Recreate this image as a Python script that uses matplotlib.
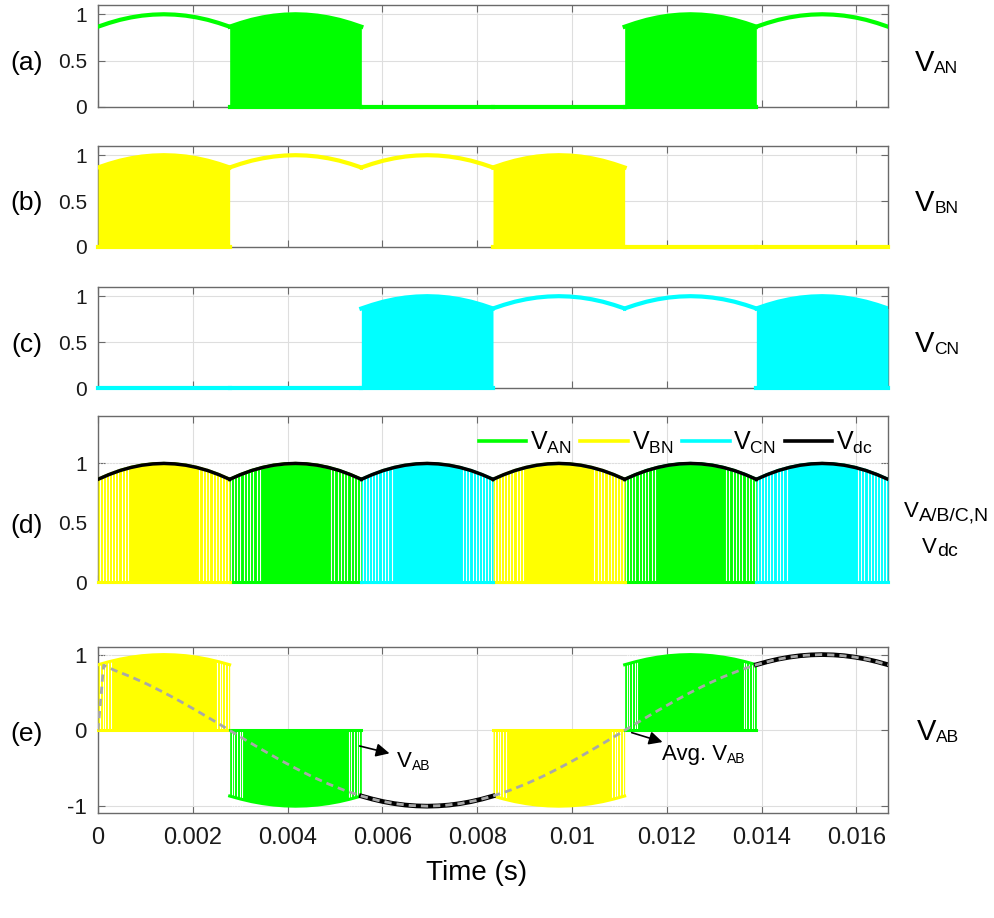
import numpy as np
import matplotlib
matplotlib.use('Agg')
import matplotlib.pyplot as plt
from matplotlib.lines import Line2D
from matplotlib.text import Annotation

plt.rcParams['font.family'] = ['Liberation Sans', 'DejaVu Sans']
plt.rcParams['mathtext.fontset'] = 'custom'
plt.rcParams['mathtext.rm'] = 'Liberation Sans'
plt.rcParams['mathtext.it'] = 'Liberation Sans:italic'

# ---------------- data ----------------
SECTOR_EDGES = [0.0, 0.0027778, 0.0055556, 0.0083333, 0.0111111, 0.0138889, 0.0166667]
# DC-link envelope across one 60-degree sector
ENV_ARC = [0.866, 0.906, 0.940, 0.966, 0.985, 0.996, 1.000, 0.996, 0.985, 0.966, 0.940, 0.906, 0.866]
VAN_STATE = ['on', 'pwm', 'off', 'off', 'pwm', 'on']
VBN_STATE = ['pwm', 'on', 'on', 'pwm', 'off', 'off']
VCN_STATE = ['off', 'off', 'pwm', 'on', 'on', 'pwm']
VAB_KIND = ['B', 'A', 'line', 'B', 'A', 'line']
VAB_SIGN = [1, -1, -1, -1, 1, 1]
# average line-to-line voltage
AVG_STEP = 0.00034722
AVG_V = [0.793, 0.707, 0.609, 0.500, 0.383, 0.259, 0.131, 0.000,
         -0.131, -0.259, -0.383, -0.500, -0.609, -0.707, -0.793, -0.866,
         -0.924, -0.966, -0.991, -1.000, -0.991, -0.966, -0.924, -0.866,
         -0.793, -0.707, -0.609, -0.500, -0.383, -0.259, -0.131, 0.000,
         0.131, 0.259, 0.383, 0.500, 0.609, 0.707, 0.793, 0.866,
         0.924, 0.966, 0.991, 1.000, 0.991, 0.966, 0.924, 0.866]
AVG_START_T = [0.0, 0.00012]
AVG_START_V = [0.0, 0.86]
# visible switching gaps inside a PWM sector (fraction of the sector)
GAP_D = [0.012, 0.035, 0.058, 0.082, 0.106, 0.13, 0.155, 0.18, 0.205, 0.23,
         0.77, 0.795, 0.82, 0.845, 0.87, 0.894, 0.918, 0.942, 0.965, 0.988]
GAP_E = [0.015, 0.035, 0.055, 0.075, 0.095, 0.905, 0.925, 0.945, 0.965, 0.985]
X_TICKS = [0, 0.002, 0.004, 0.006, 0.008, 0.01, 0.012, 0.014, 0.016]
X_TICK_LABELS = ['0', '0.002', '0.004', '0.006', '0.008', '0.01', '0.012', '0.014', '0.016']

GREEN, YELLOW, CYAN = '#00FF00', '#FFFF00', '#00FFFF'
SPINE = '#6a6a6a'
W, H = 995, 918

fig = plt.figure(figsize=(W / 100, H / 100), dpi=100)


def px_axes(top, bottom, left=98, right=888):
    return fig.add_axes([left / W, 1 - bottom / H, (right - left) / W, (bottom - top) / H])


def style(ax, ylim, yticks, ylabels, xlabels=False, ysize=15):
    ax.set_xlim(0, SECTOR_EDGES[-1])
    ax.set_ylim(*ylim)
    ax.set_xticks(X_TICKS)
    ax.set_xticklabels(X_TICK_LABELS if xlabels else [])
    ax.set_yticks(yticks)
    ax.set_yticklabels(ylabels)
    ax.grid(True, color='#dedede', lw=0.8)
    ax.set_axisbelow(True)
    ax.tick_params(direction='in', length=5, width=0.8, top=True, right=True,
                   colors=SPINE, labelcolor='#1a1a1a', labelsize=ysize, pad=8)
    ax.tick_params(axis='x', labelsize=17, pad=10)
    for s in ax.spines.values():
        s.set_color(SPINE)
        s.set_linewidth(1.0)


def sector_arc(k, sign=1):
    t = np.linspace(SECTOR_EDGES[k], SECTOR_EDGES[k + 1], len(ENV_ARC))
    return t, sign * np.array(ENV_ARC)


def pwm_block(ax, k, sign, color, gaps, lw=2.2):
    t, v = sector_arc(k, sign)
    t0, t1 = t[0], t[-1]
    ax.fill_between(t, 0, v, color=color, lw=0, zorder=3)
    if gaps:
        ax.vlines(t0 + np.array(gaps) * (t1 - t0), 0, sign * 1.0, color='white', lw=0.8, zorder=3.2)
    ax.plot(t, v, color=color, lw=lw, zorder=3.4)
    ax.plot([t0, t1], [0, 0], color=color, lw=lw, zorder=3.4, clip_on=False)


def draw_phase(ax, states, color, gaps=None, lw=2.2):
    for k, s in enumerate(states):
        t, v = sector_arc(k)
        if s == 'on':
            ax.plot(t, v, color=color, lw=lw, zorder=3)
        elif s == 'off':
            ax.plot([t[0], t[-1]], [0, 0], color=color, lw=lw, zorder=3, clip_on=False)
        else:
            pwm_block(ax, k, 1, color, gaps, lw)


def v_label(x_px, base_px, sub, vsize, ssize, drop=2):
    t = fig.text(x_px / W, 1 - base_px / H, 'V', fontsize=vsize, va='baseline', ha='left')
    ann = Annotation(sub, xy=(1, 0.225), xycoords=t, xytext=(0, -drop), textcoords='offset points',
                     fontsize=ssize, va='baseline', ha='left')
    fig.add_artist(ann)
    return t


# ---------------- panels (a)-(c) ----------------
ax_a = px_axes(5, 107)
draw_phase(ax_a, VAN_STATE, GREEN, lw=3.0)
ax_b = px_axes(146, 247)
draw_phase(ax_b, VBN_STATE, YELLOW, lw=3.0)
ax_c = px_axes(287, 388)
draw_phase(ax_c, VCN_STATE, CYAN, lw=3.0)
for ax in (ax_a, ax_b, ax_c):
    style(ax, (0, 1.1), [0, 0.5, 1], ['0', '0.5', '1'])

# ---------------- panel (d) ----------------
ax_d = px_axes(416, 582)
draw_phase(ax_d, VAN_STATE, GREEN, GAP_D)
draw_phase(ax_d, VBN_STATE, YELLOW, GAP_D)
draw_phase(ax_d, VCN_STATE, CYAN, GAP_D)
for k in range(6):
    t, v = sector_arc(k)
    ax_d.plot(t, v, color='black', lw=2.5, zorder=4, solid_joinstyle='miter')
style(ax_d, (0, 1.4), [0, 0.5, 1], ['0', '0.5', '1'])
handles = [Line2D([], [], color=GREEN, lw=2.6), Line2D([], [], color=YELLOW, lw=2.6),
           Line2D([], [], color=CYAN, lw=2.6), Line2D([], [], color='black', lw=2.6)]
labels = [r'$\mathrm{V_{AN}}$', r'$\mathrm{V_{BN}}$', r'$\mathrm{V_{CN}}$', r'$\mathrm{V_{dc}}$']
ax_d.legend(handles, labels, ncol=4, frameon=False, loc='upper right', fontsize=18,
            handlelength=1.9, handletextpad=0.15, columnspacing=0.35,
            bbox_to_anchor=(1.0, 1.005), borderaxespad=0.2)

# ---------------- panel (e) ----------------
ax_e = px_axes(647, 813)
for k in range(6):
    if VAB_KIND[k] == 'line':
        t, v = sector_arc(k, VAB_SIGN[k])
        ax_e.plot(t, v, color='black', lw=3.4, zorder=4)
    else:
        pwm_block(ax_e, k, VAB_SIGN[k], YELLOW if VAB_KIND[k] == 'B' else GREEN, GAP_E)
avg_t = AVG_START_T + [AVG_STEP * (i + 1) for i in range(len(AVG_V))]
avg_v = AVG_START_V + AVG_V
ax_e.plot(avg_t, avg_v, color='#a8a8a8', lw=2.0, ls=(0, (2.6, 1.8)), zorder=5)
style(ax_e, (-1.09, 1.1), [-1, 0, 1], ['-1', '0', '1'], xlabels=True, ysize=16)

ax_e.annotate('', xy=(0.00615, -0.303), xytext=(0.00552, -0.206),
              arrowprops=dict(arrowstyle='-|>', color='black', lw=1.2, mutation_scale=20,
                              shrinkA=0, shrinkB=0), zorder=6)
ax_e.annotate('', xy=(0.01191, -0.154), xytext=(0.01126, -0.03),
              arrowprops=dict(arrowstyle='-|>', color='black', lw=1.2, mutation_scale=20,
                              shrinkA=0, shrinkB=0), zorder=6)
v_label(397, 767, 'AB', 16, 10)
t_avg = fig.text(662 / W, 1 - 760 / H, 'Avg. V', fontsize=16, va='baseline', ha='left')
fig.add_artist(Annotation('AB', xy=(1, 0.225), xycoords=t_avg, xytext=(0, -2),
                          textcoords='offset points', fontsize=10, va='baseline', ha='left'))

# ---------------- labels ----------------
for lab, yc in zip(['(a)', '(b)', '(c)', '(d)', '(e)'], [63, 203, 345, 526, 734]):
    fig.text(27 / W, 1 - yc / H, lab, fontsize=19, ha='center', va='center')

v_label(915, 71, 'AN', 21, 12.5)
v_label(915, 211, 'BN', 21, 12.5)
v_label(915, 352, 'CN', 21, 12.5)
v_label(904, 517, 'A/B/C,N', 16, 14)
v_label(922, 553, 'dc', 16, 14)
v_label(917, 740, 'AB', 21, 12.5)

fig.text(477 / W, 1 - 873 / H, 'Time (s)', fontsize=20, ha='center', va='center')

fig.savefig('out.png', dpi=100)
